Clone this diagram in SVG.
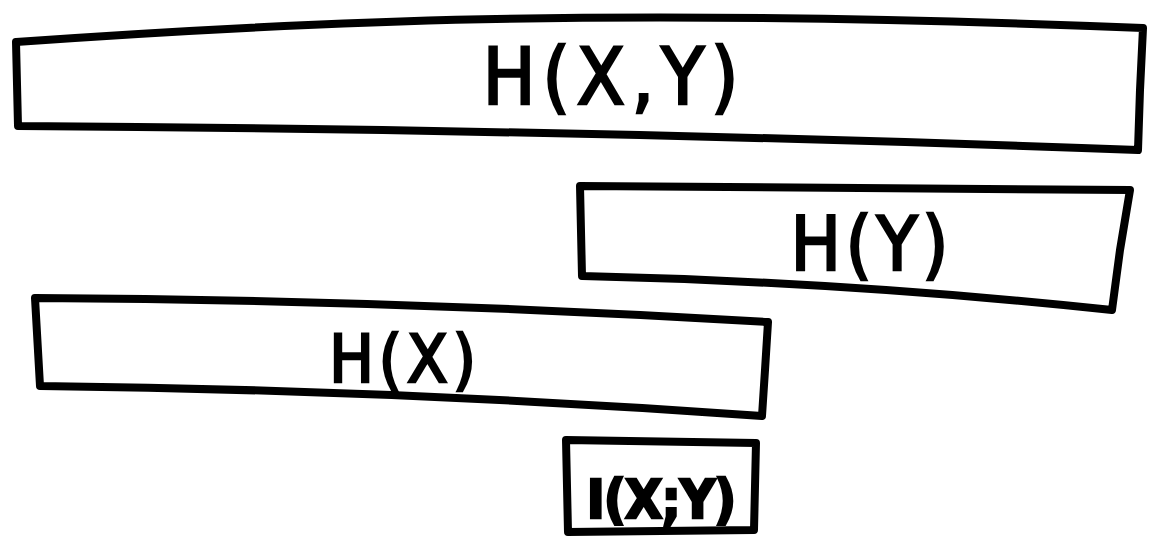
<svg xmlns="http://www.w3.org/2000/svg" width="1154" height="542" viewBox="0 0 1154 542">
<style>
.box{fill:none;stroke:#000;stroke-width:8;stroke-linejoin:round;stroke-linecap:round}
.lbl{font-family:"DejaVu Sans Condensed","DejaVu Sans",sans-serif;fill:#000;text-anchor:middle;stroke:#000;stroke-width:2.5}
</style>
<rect width="1154" height="542" fill="#fff"/>
<g id="hxy">
<path class="box" d="M16,42 C300,22 600,6 1143,28 L1140,90 L1138,150 Q600,130 18,126 Z"/>
<text class="lbl" x="614" y="104" font-size="78" letter-spacing="7">H(X,Y)</text>
</g>
<g id="hy">
<path class="box" d="M580,186 L860,188 L1130,190 L1120,250 L1112,310 Q850,282 582,276 Z"/>
<text class="lbl" x="872" y="270" font-size="74" letter-spacing="5">H(Y)</text>
</g>
<g id="hx">
<path class="box" d="M35,298 Q400,300 768,322 L765,370 L762,416 Q400,390 40,386 Z"/>
<text class="lbl" x="405" y="382" font-size="66" letter-spacing="5">H(X)</text>
</g>
<g id="ixy">
<path class="box" d="M566,440 L756,443 L754,530 L568,532 Z" stroke-width="10"/>
<text class="lbl" x="661" y="518" font-size="54" font-weight="bold" letter-spacing="-1">I(X;Y)</text>
</g>
<g id="connectors"/>
</svg>
